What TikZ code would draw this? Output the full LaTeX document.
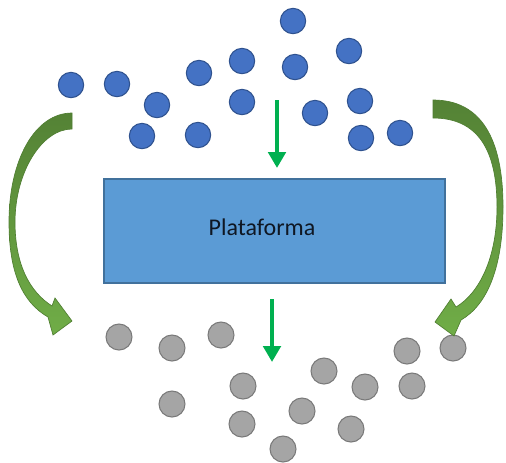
\documentclass[tikz,border=0pt]{standalone}
\usepackage{fontspec}
\setmainfont{Carlito}
\usetikzlibrary{arrows.meta}
\definecolor{dotblue}{HTML}{4472C4}
\definecolor{dotblueline}{HTML}{2F528F}
\definecolor{dotgray}{HTML}{A5A5A5}
\definecolor{dotgrayline}{HTML}{7A7A7A}
\definecolor{platfill}{HTML}{5B9BD5}
\definecolor{platline}{HTML}{41719C}
\definecolor{flowgreen}{HTML}{00B050}
\definecolor{loopdark}{HTML}{548235}
\definecolor{looplight}{HTML}{70AD47}
\definecolor{loopline}{HTML}{507E32}
\definecolor{textdark}{HTML}{0F1723}
\begin{document}
\begin{tikzpicture}[x=0.75pt,y=-0.75pt,
  bluedot/.style={circle,fill=dotblue,draw=dotblueline,line width=0.8pt,minimum size=19pt,inner sep=0pt},
  graydot/.style={circle,fill=dotgray,draw=dotgrayline,line width=0.8pt,minimum size=19.5pt,inner sep=0pt},
  platbox/.style={draw=platline,line width=0.8pt,fill=platfill},
  dropflow/.style={draw=flowgreen,line width=3.6pt,-{Triangle[length=12pt,width=13pt]}},
  loopband/.style={top color=loopdark,bottom color=looplight,draw=loopline,line width=0.5pt}]
\useasboundingbox (0,0) rectangle (506,462);

% incoming particles
\node[bluedot] (b1) at (293,21) {};
\node[bluedot] (b2) at (349,51) {};
\node[bluedot] (b3) at (295,67) {};
\node[bluedot] (b4) at (242,61) {};
\node[bluedot] (b5) at (199,73) {};
\node[bluedot] (b6) at (71,85) {};
\node[bluedot] (b7) at (117,84) {};
\node[bluedot] (b8) at (157,105) {};
\node[bluedot] (b9) at (242,102) {};
\node[bluedot] (b10) at (315,113) {};
\node[bluedot] (b11) at (360,101) {};
\node[bluedot] (b12) at (142,136) {};
\node[bluedot] (b13) at (198,135) {};
\node[bluedot] (b14) at (361,138) {};
\node[bluedot] (b15) at (400,133) {};

% outgoing particles
\node[graydot] (g1) at (119,337) {};
\node[graydot] (g2) at (172,348) {};
\node[graydot] (g3) at (221,335) {};
\node[graydot] (g4) at (243,386) {};
\node[graydot] (g5) at (172,404) {};
\node[graydot] (g6) at (242,424) {};
\node[graydot] (g7) at (283,449) {};
\node[graydot] (g8) at (302,411) {};
\node[graydot] (g9) at (324,371) {};
\node[graydot] (g10) at (365,387) {};
\node[graydot] (g11) at (351,429) {};
\node[graydot] (g12) at (407,351) {};
\node[graydot] (g13) at (412,386) {};
\node[graydot] (g14) at (453,348) {};

% platform
\draw[platbox] (104,179) rectangle (445,283);
\node[anchor=base,text=textdark,font=\fontsize{18}{21}\selectfont,inner sep=0pt] (plat) at (262,235) {Plataforma};

% vertical flow through the platform
\coordinate (inTop) at (277,100);
\coordinate (inEnd) at (277,168);
\coordinate (outTop) at (272,299);
\coordinate (outEnd) at (272,362);
\draw[dropflow] (inTop) -- (inEnd);
\draw[dropflow] (outTop) -- (outEnd);

% left bypass arrow
\path[loopband] (72,113) .. controls (35,113) and (9,160) .. (9,222)
  .. controls (9,272) and (22,302) .. (48,317)
  -- (53,335) -- (72,321) -- (55,298) -- (52,306)
  .. controls (30,292) and (15,265) .. (15,222)
  .. controls (15,172) and (42,129) .. (72,129) -- cycle;

% right bypass arrow
\path[loopband] (433,100) .. controls (482,100) and (503,140) .. (503,207)
  .. controls (503,268) and (487,305) .. (461,320)
  -- (454,336) -- (435,322) -- (451,299) -- (456,307)
  .. controls (478,294) and (497,260) .. (497,207)
  .. controls (497,150) and (478,118) .. (433,118) -- cycle;
\end{tikzpicture}
\end{document}
